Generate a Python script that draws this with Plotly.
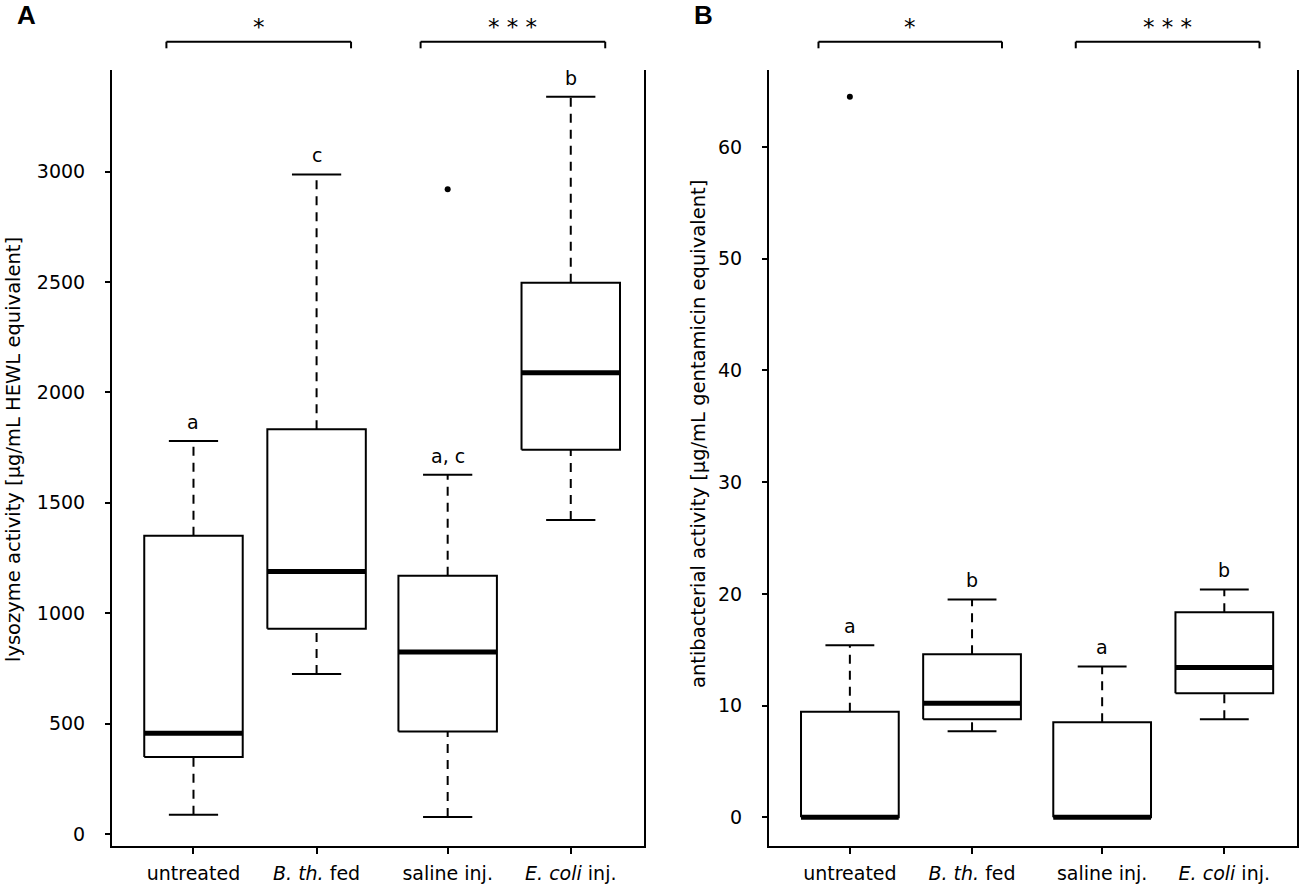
import plotly.graph_objects as go

# categories and x positions (R boxplot "at")
groups = ["untreated", "B. th. fed", "saline inj.", "E. coli inj."]
tick_text = ["untreated", "<i>B. th.</i> fed", "saline inj.", "<i>E. coli</i> inj."]
positions = [1, 2, 3.065, 4.065]

# panel A: lysozyme activity [µg/mL HEWL equivalent]
lyso_low = [88, 725, 77, 1422]
lyso_q1 = [349, 930, 465, 1740]
lyso_med = [457, 1189, 824, 2089]
lyso_q3 = [1351, 1833, 1170, 2497]
lyso_high = [1780, 2987, 1627, 3339]
lyso_outliers = [[], [], [2920], []]
lyso_letters = ["a", "c", "a, c", "b"]
lyso_ticks = [0, 500, 1000, 1500, 2000, 2500, 3000]

# panel B: antibacterial activity [µg/mL gentamicin equivalent]
anti_low = [0, 7.7, 0, 8.77]
anti_q1 = [0, 8.77, 0, 11.1]
anti_med = [0, 10.2, 0, 13.4]
anti_q3 = [9.45, 14.6, 8.5, 18.35]
anti_high = [15.4, 19.5, 13.5, 20.4]
anti_outliers = [[64.5], [], [], []]
anti_letters = ["a", "b", "a", "b"]
anti_ticks = [0, 10, 20, 30, 40, 50, 60]

FONT = "DejaVu Sans"
FS = 19
W, H = 1299, 885
BOXW = 0.4    # half box width (boxwex 0.8)
CAPW = 0.2    # half staple width


def add_panel(fig, xa, ya, low, q1, med, q3, high, outliers, letters):
    wx, wy, bx, by, cx, cy, mx, my, ox, oy = ([] for _ in range(10))
    for p, lo, a, m, b, hi, outs in zip(positions, low, q1, med, q3, high, outliers):
        wx += [p, p, None, p, p, None]
        wy += [lo, a, None, b, hi, None]
        bx += [p - BOXW, p + BOXW, p + BOXW, p - BOXW, p - BOXW, None]
        by += [a, a, b, b, a, None]
        cx += [p - CAPW, p + CAPW, None, p - CAPW, p + CAPW, None]
        cy += [lo, lo, None, hi, hi, None]
        mx += [p - BOXW, p + BOXW, None]
        my += [m, m, None]
        ox += [p] * len(outs)
        oy += outs
    common = dict(xaxis=xa, yaxis=ya, showlegend=False, hoverinfo="skip")
    fig.add_trace(go.Scatter(x=wx, y=wy, mode="lines",
                             line=dict(color="black", width=2, dash="9px,7px"), **common))
    fig.add_trace(go.Scatter(x=bx, y=by, mode="lines",
                             line=dict(color="black", width=2), **common))
    fig.add_trace(go.Scatter(x=cx, y=cy, mode="lines",
                             line=dict(color="black", width=2), **common))
    fig.add_trace(go.Scatter(x=mx, y=my, mode="lines",
                             line=dict(color="black", width=5), **common))
    fig.add_trace(go.Scatter(x=ox, y=oy, mode="markers",
                             marker=dict(color="black", size=6), **common))
    for p, hi, lab in zip(positions, high, letters):
        fig.add_annotation(x=p, y=hi, xref=xa, yref=ya, text=lab, showarrow=False,
                           yanchor="bottom", yshift=6,
                           font=dict(family=FONT, size=FS, color="black"))


fig = go.Figure()
add_panel(fig, "x", "y", lyso_low, lyso_q1, lyso_med, lyso_q3, lyso_high,
          lyso_outliers, lyso_letters)
add_panel(fig, "x2", "y2", anti_low, anti_q1, anti_med, anti_q3, anti_high,
          anti_outliers, anti_letters)

xcommon = dict(range=[0.338, 4.66], tickvals=positions, ticktext=tick_text,
               showline=True, linecolor="black", linewidth=2, mirror=False,
               ticks="outside", ticklen=6, tickwidth=2, tickcolor="black",
               ticklabelstandoff=3, showgrid=False, zeroline=False, automargin=False,
               tickfont=dict(family=FONT, size=FS, color="black"))
ycommon = dict(showline=True, linecolor="black", linewidth=2, mirror=True,
               ticks="outside", ticklen=5, tickwidth=2, tickcolor="black",
               ticklabelstandoff=16, showgrid=False, zeroline=False, automargin=False,
               tickfont=dict(family=FONT, size=FS, color="black"))
ydom = [1 - 846 / H, 1 - 70 / H]

fig.update_layout(
    width=W, height=H,
    margin=dict(l=0, r=0, t=0, b=0),
    paper_bgcolor="white", plot_bgcolor="white",
    font=dict(family=FONT, size=FS, color="black"),
    xaxis=dict(domain=[112 / W, 644 / W], anchor="y", **xcommon),
    yaxis=dict(domain=ydom, anchor="x", range=[-54, 3460], tickvals=lyso_ticks, **ycommon),
    xaxis2=dict(domain=[769 / W, 1297 / W], anchor="y2", **xcommon),
    yaxis2=dict(domain=ydom, anchor="x2", range=[-2.57, 66.9], tickvals=anti_ticks, **ycommon),
)

# significance brackets above the panels
bracket_top = 1 - 41.7 / H
bracket_end = 1 - 48.3 / H
brackets = [("x", 0.78, 2.28, "*"), ("x", 2.845, 4.345, "* * *"),
            ("x2", 0.743, 2.245, "*"), ("x2", 2.849, 4.353, "* * *")]
for xa, a, b, stars in brackets:
    for x0, y0, x1, y1 in [(a, bracket_top, b, bracket_top),
                           (a, bracket_top, a, bracket_end),
                           (b, bracket_top, b, bracket_end)]:
        fig.add_shape(type="line", xref=xa, yref="paper", x0=x0, y0=y0, x1=x1, y1=y1,
                      line=dict(color="black", width=2))
    fig.add_annotation(x=(a + b) / 2, y=1 - 27 / H, xref=xa, yref="paper", text=stars,
                       showarrow=False, xanchor="center", yanchor="middle",
                       font=dict(family=FONT, size=23, color="black"))

# axis titles
fig.add_annotation(x=13 / W, y=1 - 450 / H, xref="paper", yref="paper", textangle=-90,
                   text="lysozyme activity [µg/mL HEWL equivalent]", showarrow=False,
                   xanchor="center", yanchor="middle",
                   font=dict(family=FONT, size=19.5, color="black"))
fig.add_annotation(x=699 / W, y=1 - 434 / H, xref="paper", yref="paper", textangle=-90,
                   text="antibacterial activity [µg/mL gentamicin equivalent]", showarrow=False,
                   xanchor="center", yanchor="middle",
                   font=dict(family=FONT, size=19.5, color="black"))

# panel labels
for lab, xp in [("A", 26.5), ("B", 704)]:
    fig.add_annotation(x=xp / W, y=1 - 15 / H, xref="paper", yref="paper", text=f"<b>{lab}</b>",
                       showarrow=False, xanchor="center", yanchor="middle",
                       font=dict(family="Liberation Sans", size=26, color="black"))

# the page body has a default 8px margin; drop it so the figure fills the window
fig.write_html("out.html", config={"displayModeBar": False},
               post_script="document.body.style.margin = '0';")
